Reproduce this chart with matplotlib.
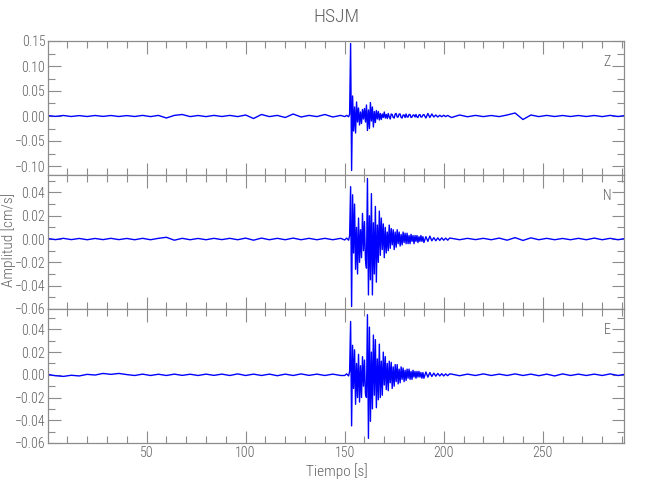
'''
 * Three component seismogram for station HSJM (Z, N, E)
 * saved to out.png
'''
import numpy as np
import matplotlib
matplotlib.use("Agg")
from matplotlib import pyplot as plt
from matplotlib import font_manager
from matplotlib.ticker import MultipleLocator, FuncFormatter

# sample times [s], denser where the event arrives
tiempo = np.concatenate([
    np.arange(0, 150, 4),
    np.arange(150, 152.5, 1),
    np.arange(152.5, 168, 0.5),
    np.arange(168, 190, 0.5),
    np.arange(190, 204, 1),
    np.arange(204, 293, 4)])

# amplitudes [cm/s], one value per sample time
comp_z = [
    0.001, -0.0008, 0.001, -0.001, 0.0008, -0.001, 0.001, -0.0008, 0.001, -0.001,
    0.0008, -0.001, 0.0012, -0.0012, 0.0012, -0.004, 0.0012, 0.003, -0.0012, 0.001,
    -0.0012, 0.0012, -0.001, 0.0012, -0.0012, 0.002, -0.005, 0.003, -0.0012, 0.0012,
    -0.003, 0.004, -0.002, 0.0012, -0.0012, 0.003, -0.002, 0.0012,
    -0.0012, 0.0012, -0.0015,
    0.004, 0.145, -0.109, 0.04, -0.03, 0.018, -0.034, 0.028, -0.012, 0.016,
    -0.018, 0.008, -0.015, 0.013, -0.006, 0.015, -0.012, 0.022, -0.029, 0.012,
    -0.025, 0.027, -0.01, 0.018, -0.022, 0.009, -0.013, 0.011, -0.006, 0.009,
    -0.008,
    0.005, -0.007, 0.004, -0.003, 0.008, -0.004, 0.003, -0.005, 0.005, -0.002,
    -0.006, 0.004, 0.003, -0.003, -0.004, 0.004, 0.005, -0.002, -0.002, 0.004,
    0.004, -0.003, -0.004, 0.002, 0.002, -0.003, 0.004, -0.002, -0.002, 0.003,
    0.003, -0.003, -0.002, 0.002, 0.002, -0.002, 0.003, -0.002, -0.003, 0.002,
    0.003, -0.002, -0.002, 0.002,
    0.003, -0.004, 0.005, -0.003, 0.004, -0.002, 0.002, -0.002, 0.0015, -0.0015,
    0.0015, -0.0012, 0.0012, -0.0012,
    -0.003, 0.002, -0.0015, 0.0012, -0.0012, 0.001, -0.0012, 0.002, 0.006, -0.007,
    0.002, -0.0012, 0.0012, -0.001, 0.001, -0.001, 0.001, -0.001, 0.001, -0.0012,
    0.0012, -0.001, 0.0012]

comp_n = [
    0.0005, -0.0005, 0.0006, -0.0005, 0.0005, -0.0006, 0.0005, -0.0005, 0.0006, -0.0005,
    0.0005, -0.0006, 0.0006, -0.0006, 0.0006, 0.0015, -0.001, 0.0006, -0.0006, 0.0005,
    -0.0006, 0.0006, -0.0005, 0.0006, -0.0006, 0.0008, -0.001, 0.0008, -0.0006, 0.0006,
    -0.0006, 0.0008, -0.0006, 0.0006, -0.0006, 0.0006, -0.0006, 0.0006,
    -0.0008, 0.0008, -0.001,
    0.003, 0.045, -0.058, 0.038, -0.012, 0.03, -0.026, 0.01, -0.03, 0.018,
    -0.02, 0.008, -0.016, 0.022, -0.01, 0.015, -0.018, -0.025, 0.052, -0.048,
    0.02, -0.035, 0.039, -0.048, 0.014, -0.03, 0.028, -0.037, 0.012, -0.02,
    0.024,
    -0.014, 0.018, -0.009, 0.013, -0.016, 0.01, -0.012, 0.006, -0.01, 0.012,
    -0.008, 0.009, -0.005, 0.008, -0.009, 0.006, -0.007, 0.008, -0.004, 0.006,
    -0.006, 0.004, -0.005, 0.006, -0.003, 0.005, -0.004, 0.005, -0.004, 0.003,
    -0.004, 0.004, -0.002, 0.003, -0.004, 0.003, -0.002, 0.003, -0.003, 0.002,
    -0.002, 0.003, -0.002, 0.002,
    -0.003, 0.002, -0.002, 0.0025, -0.0015, 0.0012, -0.0015, 0.001, -0.0012, 0.001,
    -0.001, 0.0008, -0.001, 0.0008,
    0.0006, -0.0006, 0.0006, -0.0005, 0.0006, -0.0006, 0.0008, -0.001, 0.0012, -0.0012,
    0.001, -0.0006, 0.0006, -0.0006, 0.0005, -0.0006, 0.0006, -0.0006, 0.0008, -0.0006,
    0.0006, -0.0006, 0.0006]

comp_e = [
    0.0004, -0.0008, -0.0014, -0.0004, -0.001, 0.0004, -0.0002, 0.0012, 0.0004, 0.0012,
    0.0002, -0.0006, 0.0006, -0.0006, 0.0005, -0.0006, 0.0006, -0.0005, 0.0005, -0.0006,
    0.0006, -0.0005, 0.0006, -0.0006, 0.0008, -0.0006, 0.0006, -0.0006, 0.0006, -0.0008,
    0.0006, -0.0006, 0.0008, -0.0005, 0.0006, -0.0006, 0.0006, -0.0006,
    -0.0006, 0.0008, -0.001,
    0.003, 0.047, -0.045, 0.026, -0.012, 0.022, -0.026, 0.01, -0.02, 0.018,
    -0.024, 0.008, -0.02, 0.016, -0.01, 0.013, -0.017, -0.02, 0.053, -0.056,
    0.042, -0.041, 0.02, -0.03, 0.035, -0.018, 0.031, -0.029, 0.014, -0.022,
    0.027,
    -0.02, 0.012, -0.018, 0.02, -0.009, 0.016, -0.013, 0.01, -0.014, 0.012,
    -0.007, 0.011, -0.012, 0.007, -0.01, 0.009, -0.006, 0.009, -0.008, 0.005,
    -0.007, 0.007, -0.004, 0.006, -0.006, 0.004, -0.005, 0.005, -0.003, 0.005,
    -0.004, 0.003, -0.004, 0.004, -0.002, 0.003, -0.003, 0.003, -0.002, 0.003,
    -0.002, 0.002, -0.003, 0.002,
    -0.003, 0.0025, -0.002, 0.002, -0.0015, 0.0015, -0.0012, 0.0012, -0.001, 0.001,
    -0.001, 0.0008, -0.0008, 0.0008,
    0.0006, -0.0008, 0.0006, -0.0006, 0.0008, -0.0006, 0.0006, -0.0006, 0.0008, -0.0006,
    0.0006, -0.0008, 0.0006, -0.001, 0.0008, -0.0006, 0.0006, -0.0006, 0.0006, -0.0006,
    0.0008, -0.0006, 0.0006]

componentes = ["Z", "N", "E"]
trazas = [comp_z, comp_n, comp_e]
y_limites = [(-0.118, 0.15), (-0.0601, 0.055), (-0.0601, 0.058)]
y_major = [0.05, 0.02, 0.02]
y_minor = [0.025, 0.01, 0.01]

gris = "#8c8c8c"
texto = "#606060"

# pick a narrow / thin family close to the IDL vector font
disponibles = [(f.name, str(f.weight)) for f in font_manager.fontManager.ttflist]
nombres = [n for n, w in disponibles]
familia, peso = "DejaVu Sans", "normal"
for nombre, p in [("Liberation Sans Narrow", "normal"), ("Roboto Condensed", "light"),
                  ("Roboto", "light"), ("Lato", "light"), ("Open Sans", "light")]:
    if nombre in nombres:
        if p == "normal" or (nombre, "300") in disponibles or (nombre, "light") in disponibles:
            familia, peso = nombre, p
            break
plt.rcParams["font.family"] = [familia, "DejaVu Sans"]
plt.rcParams["font.weight"] = peso


def etiqueta(v, pos):
    if abs(v) < 1e-9:
        v = 0.0
    return f"{v:.2f}".replace("-", "\u2212")


fig, axes = plt.subplots(3, 1, sharex=True, figsize=(6.5, 5.0), dpi=100)
fig.subplots_adjust(left=0.074, right=0.96, top=0.918, bottom=0.114, hspace=0)

for ax, comp, traza, lim, ma, mi in zip(axes, componentes, trazas,
                                         y_limites, y_major, y_minor):
    ax.plot(tiempo, traza, color="#0000ff", linewidth=1.0)
    ax.set_ylim(lim)
    ax.set_xlim(0.3, 291)
    ax.yaxis.set_major_locator(MultipleLocator(ma))
    ax.yaxis.set_minor_locator(MultipleLocator(mi))
    ax.yaxis.set_major_formatter(FuncFormatter(etiqueta))
    ax.xaxis.set_major_locator(MultipleLocator(50))
    ax.xaxis.set_minor_locator(MultipleLocator(10))
    ax.tick_params(which="both", direction="in", top=True, right=True,
                   color=gris, width=0.8, labelcolor=texto, labelsize=10, pad=2)
    ax.tick_params(which="major", length=9)
    ax.tick_params(which="minor", length=5)
    for s in ax.spines.values():
        s.set_color(gris)
        s.set_linewidth(0.9)
    ax.text(0.971, 0.84, comp, transform=ax.transAxes, ha="center",
            va="center", color=texto, fontsize=10)

axes[0].tick_params(labelbottom=False)
axes[1].tick_params(labelbottom=False)

fig.text(0.518, 0.966, "HSJM", ha="center", va="center",
         color=texto, fontsize=14)
fig.text(0.518, 0.058, "Tiempo [s]", ha="center", va="center",
         color=texto, fontsize=11)
fig.text(0.013, 0.52, "Amplitud [cm/s]", ha="center", va="center",
         rotation=90, color=texto, fontsize=11)

fig.savefig("out.png", dpi=100)
